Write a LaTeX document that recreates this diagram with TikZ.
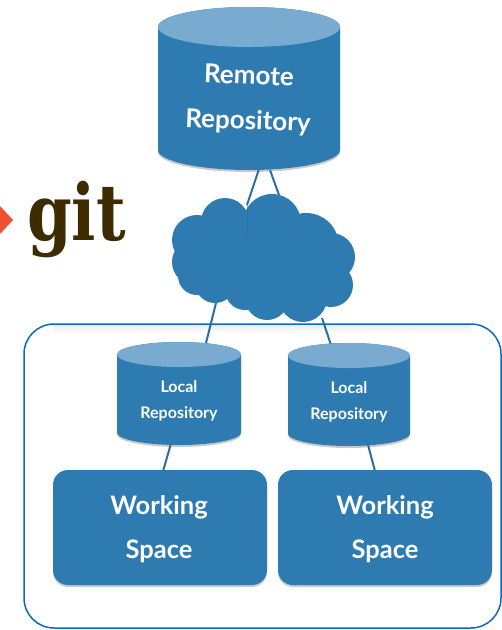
\documentclass[tikz,border=0pt]{standalone}
\usepackage{fontspec}
\usepackage{graphicx}
\setmainfont{Lato}
\newfontfamily\gitfont{DejaVu Serif}
\usetikzlibrary{shapes.geometric,shadows,calc,fadings}
\definecolor{feltblue}{HTML}{2E7BB2}
\definecolor{feltlight}{HTML}{79AAD0}
\definecolor{linkblue}{HTML}{2A6F9F}
\definecolor{boxblue}{HTML}{1167C4}
\definecolor{gitbrown}{HTML}{3E2C00}
\definecolor{gitorange}{HTML}{F05133}
\pgfdeclarelayer{boxlayer}
\pgfdeclarelayer{linklayer}
\pgfsetlayers{boxlayer,linklayer,main}
\tikzset{
  x=1pt,y=-1pt,
  softshadow/.style={drop shadow={shadow xshift=0pt,shadow yshift=-2pt,opacity=.35,fill=black!60}},
  repo/.style={rectangle,inner sep=0pt,outer sep=0pt},
  workbox/.style={rectangle,rounded corners=15pt,fill=feltblue,minimum width=214pt,minimum height=115pt,inner sep=0pt,softshadow},
  link/.style={draw=linkblue,line width=2pt},
  hand/.style={text=white,font=\fontsize{#1}{#1}\selectfont\bfseries,inner sep=0pt},
  hand/.default=12
}
\newcommand\repodraw[3]{%
  \path[fill=feltblue,softshadow] ($(#1.north west)+(0,#3)$) -- ($(#1.south west)+(0,-#3)$)
    arc[start angle=180,end angle=360,x radius=#2pt,y radius=#3pt]
    -- ($(#1.north east)+(0,#3)$)
    arc[start angle=0,end angle=180,x radius=#2pt,y radius=#3pt] -- cycle;
  \fill[feltlight] ($(#1.north)+(0,#3)$) ellipse[x radius=#2pt,y radius=#3pt];
}
\begin{document}
\begin{tikzpicture}
\useasboundingbox (0,0) rectangle (502,630);
% container
\begin{pgfonlayer}{boxlayer}
\fill[white] (0,0) rectangle (502,630);
\shade[top color=black!7,bottom color=white] (54,325.6) rectangle (471,333);
\node[rectangle,rounded corners=30pt,draw=boxblue,line width=1.5pt,
  minimum width=477pt,minimum height=304pt,inner sep=0pt,outer sep=0pt] (group) at (262.5,476) {};
\end{pgfonlayer}
% repositories
\node[repo,minimum width=182pt,minimum height=163pt] (remote) at (249,88.5) {};
\repodraw{remote}{91}{20}
\node[repo,minimum width=124pt,minimum height=103pt] (localA) at (179,393.5) {};
\repodraw{localA}{62}{12.5}
\node[repo,minimum width=122pt,minimum height=103pt] (localB) at (349,394.5) {};
\repodraw{localB}{61}{12.5}
% working spaces
\node[workbox] (workA) at (160,527.5) {};
\node[workbox] (workB) at (385,527.5) {};
% cloud
\coordinate (cloud) at (263,258);
\fill[feltblue]
  (225,222) circle[radius=24] (272,223) circle[radius=29] (306,246) circle[radius=33]
  (197,240) circle[radius=25] (195,262) circle[radius=23] (331,257) circle[radius=24]
  (331,285) circle[radius=22] (215,283) circle[radius=20] (197,276) circle[radius=19]
  (245,290) circle[radius=20] (267,298) circle[radius=22] (303,298) circle[radius=24]
  (265,258) circle[radius=44] (225,258) circle[radius=30];
\draw[linkblue,line width=.6pt,opacity=.5] (247,205) -- (247,238);
% connectors
\begin{pgfonlayer}{linklayer}
\draw[link] ($(remote.south)+(13,-10)$) -- ($(cloud)+(-16,-53)$);
\draw[link] ($(remote.south)+(21,0)$) -- ($(cloud)+(16,-63)$);
\draw[link] ($(cloud)+(-47,45)$) -- ($(localA.north)+(26,5)$);
\draw[link] ($(cloud)+(59,60)$) -- ($(localB.north)+(-17,5)$);
\draw[link] ($(localA.south)+(-7,-5)$) -- ($(workA.north)+(2,5)$);
\draw[link] ($(localB.south)+(18,-5)$) -- ($(workB.north)+(-9,5)$);
\end{pgfonlayer}
% labels
\node[hand=26,rotate=-2] (t1) at (249,75) {Remote};
\node[hand=26,rotate=-2] (t2) at (248,122) {Repository};
\node[hand=16] (t3) at (179,387) {Local};
\node[hand=16] (t4) at (179,414) {Repository};
\node[hand=16] (t5) at (349,388) {Local};
\node[hand=16] (t6) at (349,415) {Repository};
\node[hand=25.5] (t7) at (159,507) {Working};
\node[hand=25.5] (t8) at (159,551) {Space};
\node[hand=25.5] (t9) at (385,507) {Working};
\node[hand=25.5] (t10) at (385,551) {Space};
% git logo
\node[anchor=base west,inner sep=0pt,text=gitbrown,font=\gitfont\bfseries\fontsize{64}{64}\selectfont] (gitlabel) at (27,240) {\scalebox{1}[1.22]{git}};
\fill[gitorange] (13,220) -- (0,206) -- (0,234) -- cycle;
\end{tikzpicture}
\end{document}
